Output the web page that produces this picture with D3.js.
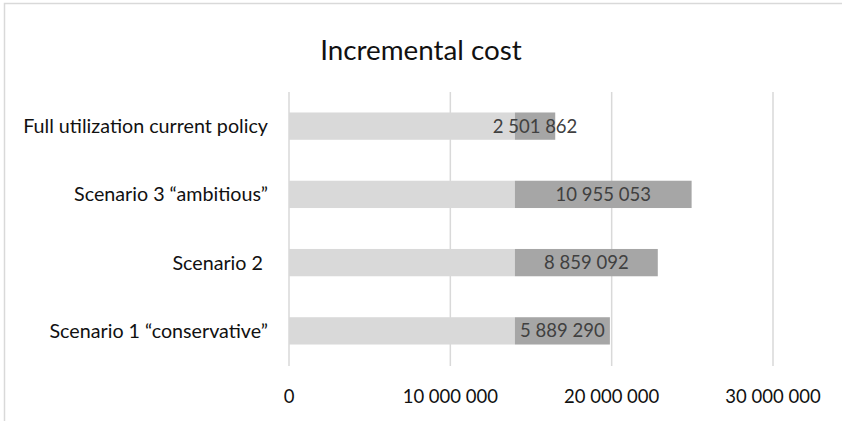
<!DOCTYPE html>
<html>
<head>
<meta charset="utf-8">
<script src="https://cdn.jsdelivr.net/npm/d3@7"></script>
<style>
  html, body { margin: 0; padding: 0; background: #fff; }
  svg { display: block; font-family: Lato, "Open Sans", sans-serif; }
</style>
</head>
<body>
<svg id="chart" width="842" height="421"></svg>
<script>
// Scenario names, top to bottom
const categories = [
  "Full utilization current policy",
  "Scenario 3 \u201cambitious\u201d",
  "Scenario 2 ",
  "Scenario 1 \u201cconservative\u201d"
];
// Baseline cost shared by every scenario (lighter segment)
const baseCost = [14000000, 14000000, 14000000, 14000000];
// Incremental cost on top of the baseline (darker, labelled segment)
const incrementalCost = [2501862, 10955053, 8859092, 5889290];
// Value axis ticks
const tickValues = [0, 10000000, 20000000, 30000000];

const svg = d3.select("#chart");
const W = 842, H = 421;

// Space as thousands separator: 10 955 053
const fmt = v => d3.format(",")(v).replace(/,/g, " ");

// Chart frame
svg.append("path")
  .attr("d", `M4.5,${H} V3.5 H${W}`)
  .attr("fill", "none")
  .attr("stroke", "#d9d9d9")
  .attr("stroke-width", 1.5);

// Title
svg.append("text")
  .attr("x", 421)
  .attr("y", 60)
  .attr("text-anchor", "middle")
  .attr("font-size", 27.8)
  .attr("fill", "#111")
  .text("Incremental cost");

const x = d3.scaleLinear().domain([0, 30000000]).range([289, 773]);
const y = d3.scaleBand().domain(categories).range([92, 365])
  .paddingInner(0.6).paddingOuter(0.3);

// Vertical gridlines with tick stubs
svg.append("g").selectAll("line")
  .data(tickValues)
  .join("line")
  .attr("x1", d => x(d)).attr("x2", d => x(d))
  .attr("y1", 92).attr("y2", 366)
  .attr("stroke", "#d9d9d9")
  .attr("stroke-width", 1.5);

// Tick labels
svg.append("g").selectAll("text")
  .data(tickValues)
  .join("text")
  .attr("x", d => x(d))
  .attr("y", 397)
  .attr("dy", "0.35em")
  .attr("text-anchor", "middle")
  .attr("font-size", 18.5)
  .attr("fill", "#111")
  .text(d => fmt(d));

// Category labels
svg.append("g").selectAll("text")
  .data(categories)
  .join("text")
  .attr("x", 268)
  .attr("y", d => y(d) + y.bandwidth() / 2)
  .attr("dy", "0.35em")
  .attr("text-anchor", "end")
  .attr("font-size", 19.7)
  .attr("fill", "#111")
  .style("white-space", "pre")
  .text(d => d);

const rows = categories.map((c, i) => ({ c, base: baseCost[i], inc: incrementalCost[i] }));

// Baseline segment
svg.append("g").selectAll("rect")
  .data(rows)
  .join("rect")
  .attr("x", x(0))
  .attr("y", d => y(d.c))
  .attr("width", d => x(d.base) - x(0))
  .attr("height", y.bandwidth())
  .attr("fill", "#d9d9d9");

// Incremental segment
svg.append("g").selectAll("rect")
  .data(rows)
  .join("rect")
  .attr("x", d => x(d.base))
  .attr("y", d => y(d.c))
  .attr("width", d => x(d.base + d.inc) - x(d.base))
  .attr("height", y.bandwidth())
  .attr("fill", "#a6a6a6");

// Value labels centred on the incremental segment
svg.append("g").selectAll("text")
  .data(rows)
  .join("text")
  .attr("x", d => (x(d.base) + x(d.base + d.inc)) / 2)
  .attr("y", d => y(d.c) + y.bandwidth() / 2)
  .attr("dy", "0.35em")
  .attr("text-anchor", "middle")
  .attr("font-size", 18.5)
  .attr("fill", "#404040")
  .text(d => fmt(d.inc));
</script>
</body>
</html>
